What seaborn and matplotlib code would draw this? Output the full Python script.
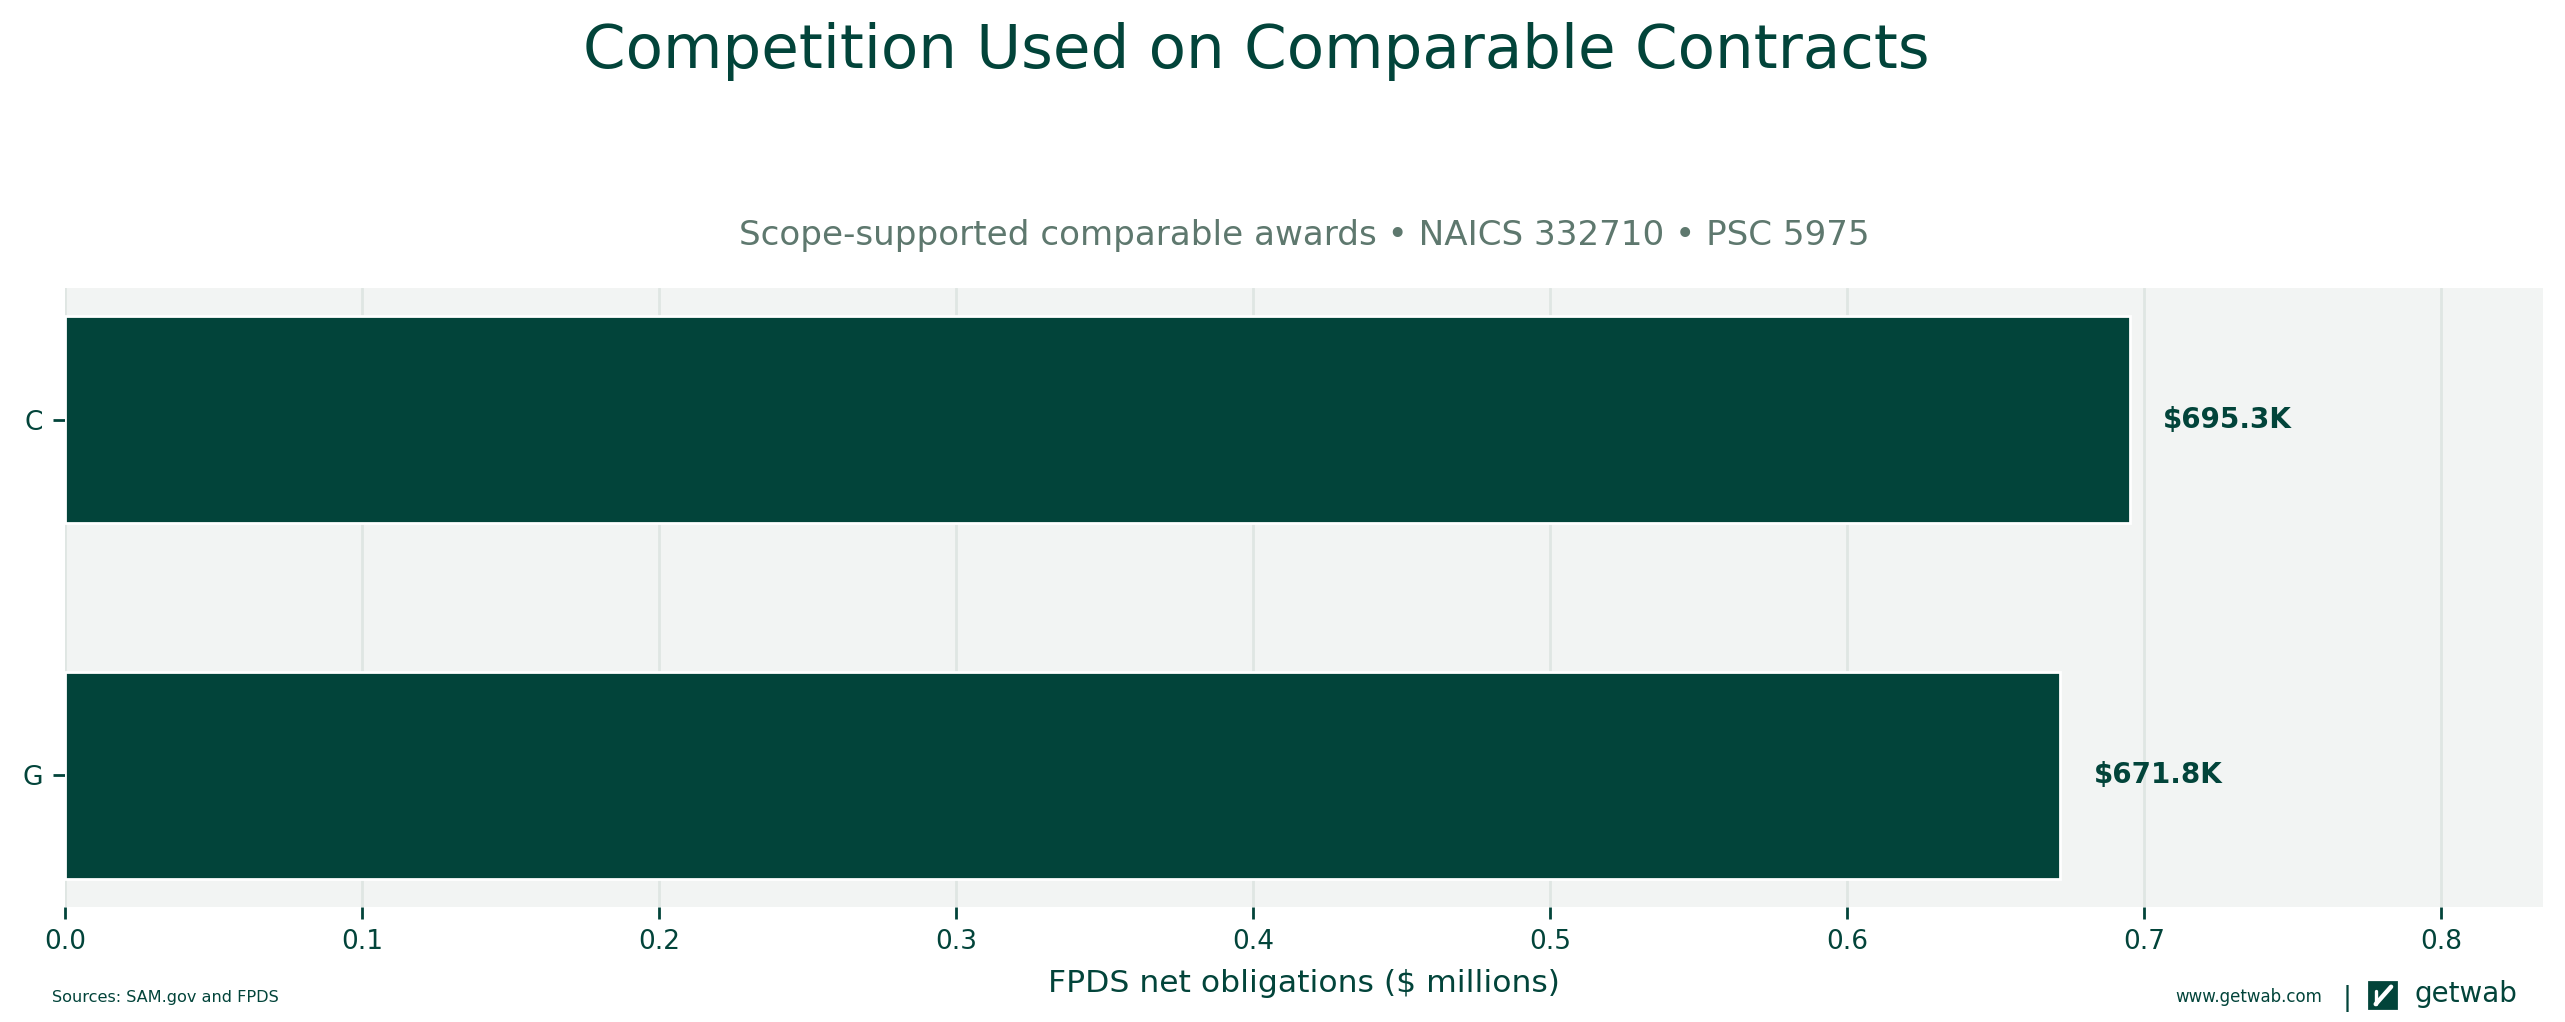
import numpy as np
import pandas as pd
import matplotlib
matplotlib.use("Agg")
import matplotlib.pyplot as plt
import matplotlib.patches as mpatches
import seaborn as sns

# chart data
categories = ["C", "G"]
values_k = [695.3, 671.8]          # thousands of dollars
value_labels = ["$695.3K", "$671.8K"]

title = "Competition Used on Comparable Contracts"
subtitle = "Scope-supported comparable awards \u2022 NAICS 332710 \u2022 PSC 5975"
x_label = "FPDS net obligations ($ millions)"
x_ticks = [0.0, 0.1, 0.2, 0.3, 0.4, 0.5, 0.6, 0.7, 0.8]

DARK = "#02443a"
SUB = "#5e786e"
BG = "#f2f4f3"
GRID = "#dfe6e3"

sns.set_theme(style="white")
plt.rcParams['font.family'] = ['DejaVu Sans']

table = pd.DataFrame({"cat": categories, "val": np.array(values_k) / 1000.0})

fig = plt.figure(figsize=(12.825, 5.11), dpi=200)
ax = fig.add_axes([0.02534, 0.11252, 0.96608, 0.60568])
ax.set_facecolor(BG)

sns.barplot(data=table, x="val", y="cat", orient="h", color=DARK,
            saturation=1, width=0.58, ax=ax, zorder=3)

xmax = table["val"].max() * 1.2
ax.set_xlim(0, xmax)
ax.set_ylim(1.37, -0.37)
ax.set_xticks(x_ticks)
ax.set_xticklabels([f"{t:.1f}" for t in x_ticks])
ax.grid(axis="x", color=GRID, linewidth=1.0, zorder=0)
ax.grid(axis="y", visible=False)
ax.set_axisbelow(True)
for s in ax.spines.values():
    s.set_visible(False)

ax.tick_params(axis="both", colors=DARK, labelsize=9.5, length=4.3, width=1.0,
               bottom=True, left=True)
ax.set_ylabel("")
ax.set_xlabel(x_label, color=DARK, fontsize=11.3, labelpad=5)

# value labels
for i, (v, lab) in enumerate(zip(table["val"], value_labels)):
    ax.annotate(lab, xy=(v, i), xytext=(12, 0), textcoords="offset points",
                ha="left", va="center", fontsize=10, fontweight="bold",
                color=DARK, zorder=5)

ax.set_title(subtitle, color=SUB, fontsize=12.3, pad=15.5)
fig.text(0.4897, 0.9335, title, ha="center", va="baseline", fontsize=22, color=DARK)

# footer
fig.text(0.0203, 0.0196, "Sources: SAM.gov and FPDS", ha="left", va="baseline",
         fontsize=5.8, color=DARK)
fig.text(0.9053, 0.0196, "www.getwab.com", ha="right", va="baseline",
         fontsize=6.0, color=DARK)
fig.text(0.9150, 0.0165, "|", ha="center", va="baseline", fontsize=9.5,
         color=DARK)
icon = mpatches.Rectangle((0.92359, 0.0137), 0.01053, 0.02544,
                          transform=fig.transFigure, color=DARK)
fig.patches.append(icon)
fig.lines.append(plt.Line2D([0.9262, 0.9322], [0.0175, 0.0345], transform=fig.transFigure,
                            color="white", linewidth=1.6))
fig.lines.append(plt.Line2D([0.9262, 0.9262], [0.0175, 0.0300], transform=fig.transFigure,
                            color="white", linewidth=1.2))
fig.text(0.9415, 0.0196, "getwab", ha="left", va="baseline", fontsize=10.0,
         color=DARK)

fig.savefig("out.png", dpi=200)
